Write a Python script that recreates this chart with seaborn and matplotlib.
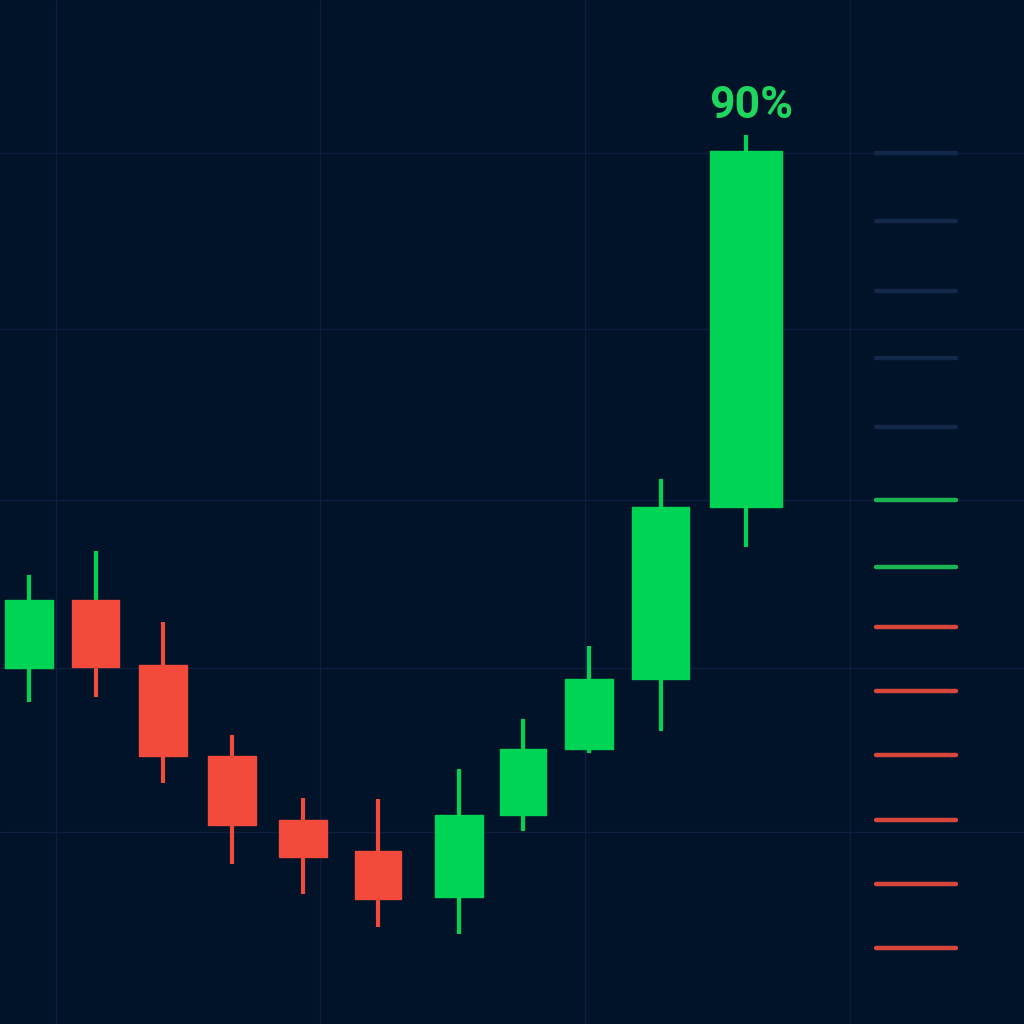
import matplotlib.pyplot as plt
import seaborn as sns

# candle data (price units)
x_pos = [2.9, 9.6, 16.3, 23.2, 30.3, 37.8, 45.9, 52.3, 58.9, 66.1, 74.6]
opens = [35.6, 42.4, 35.9, 26.8, 20.4, 17.3, 12.7, 20.9, 27.5, 34.5, 51.7]
closes = [42.4, 35.7, 26.8, 19.9, 16.7, 12.5, 20.9, 27.5, 34.5, 51.7, 87.3]
highs = [44.9, 47.3, 40.2, 28.9, 22.6, 22.5, 25.5, 30.5, 37.8, 54.5, 88.9]
lows = [32.2, 32.7, 24.1, 16.0, 13.0, 9.7, 9.0, 19.3, 27.1, 29.3, 47.7]

# price levels on the right side
levels = [87.1, 80.3, 73.3, 66.6, 59.7, 52.4, 45.7, 39.7, 33.3, 26.9, 20.4, 14.0, 7.6]
level_kind = ['dim'] * 5 + ['up'] * 2 + ['down'] * 6

label_text = '90%'

BG = '#011329'
GRID = '#0c1f3f'
UP = '#00d455'
DOWN = '#f24b3b'
level_colors = {'dim': '#122848', 'up': '#1bb552', 'down': '#d9473b'}
body_w = [4.8, 4.7, 4.8, 4.8, 4.8, 4.6, 4.8, 4.6, 4.8, 5.7, 7.2]

sns.set_theme(style='dark')
plt.rcParams['font.family'] = ['Roboto', 'DejaVu Sans']

fig = plt.figure(figsize=(10.24, 10.24), dpi=100)
fig.patch.set_facecolor(BG)
ax = fig.add_axes([0, 0, 1, 1])
ax.set_facecolor(BG)
ax.set_xlim(0, 102.4)
ax.set_ylim(0, 102.4)

# grid
for gx in [5.6, 32.0, 58.5, 85.0]:
    ax.axvline(gx, color=GRID, lw=1, zorder=0)
for gy in [87.1, 69.5, 52.4, 35.6, 19.2]:
    ax.axhline(gy, color=GRID, lw=1, zorder=0)

for i in range(len(x_pos)):
    c = UP if closes[i] >= opens[i] else DOWN
    top = max(opens[i], closes[i])
    lo = min(opens[i], closes[i])
    # the second candle's upper wick is drawn green in the source
    up_c = UP if i == 1 else c
    ax.vlines(x_pos[i], top, highs[i], color=up_c, lw=3, zorder=2)
    ax.vlines(x_pos[i], lows[i], lo, color=c, lw=3, zorder=2)
    ax.bar(x_pos[i], top - lo, bottom=lo, width=body_w[i],
           color=c, edgecolor=c, lw=1, zorder=3)

for lv, k in zip(levels, level_kind):
    ax.plot([87.6, 95.6], [lv, lv], color=level_colors[k], lw=3.2,
            solid_capstyle='round', zorder=2)

ax.text(x_pos[-1] + 0.5, 91.8, label_text, color='#1fd65f', fontsize=32,
        fontweight='bold', ha='center', va='center')

ax.set_xticks([])
ax.set_yticks([])
for s in ax.spines.values():
    s.set_visible(False)

fig.savefig('out.png', dpi=100, facecolor=BG)
